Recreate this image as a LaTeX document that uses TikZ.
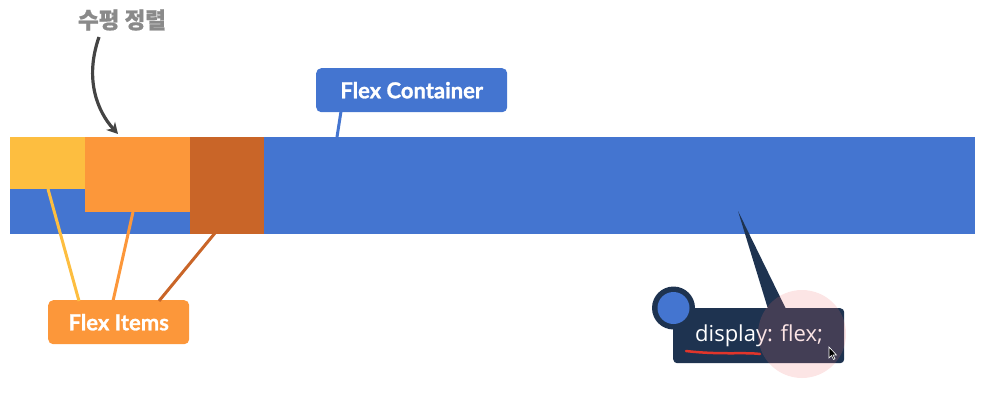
\documentclass[tikz,border=0pt]{standalone}
\usepackage{fontspec}
\setmainfont{Lato}
\newfontfamily\labelfont{Lato}[BoldFeatures={FakeBold=1.2}]
\newfontfamily\codefont{Open Sans}
\newfontfamily\cjk{Noto Sans CJK KR}[BoldFeatures={FakeBold=0.8}]
\usetikzlibrary{arrows.meta,calc}
\definecolor{cblue}{HTML}{4475D0}
\definecolor{cyellow}{HTML}{FDBE40}
\definecolor{corange}{HTML}{FC973A}
\definecolor{cdark}{HTML}{C96528}
\definecolor{cnavy}{HTML}{1E3350}
\definecolor{cgray}{HTML}{8A8A8A}
\definecolor{carrow}{HTML}{444444}
\definecolor{cpink}{HTML}{F07070}
\definecolor{cred}{HTML}{E0352B}
\tikzset{
  box/.style={rectangle, inner sep=0pt, anchor=north west},
  tag/.style={rectangle, rounded corners=5pt, inner sep=0pt, anchor=north west},
  tagtext/.style={text=white, font=\labelfont\bfseries\fontsize{22}{22}\selectfont, inner sep=0pt},
  lead/.style={line width=3pt},
}
\begin{document}
\begin{tikzpicture}[x=1pt,y=-1pt]
\useasboundingbox (0,0) rectangle (991,400);
% container and items
\node[box, fill=cblue, minimum width=965pt, minimum height=97pt] (container) at (10,137) {};
\node[box, fill=cyellow, minimum width=75pt, minimum height=52pt] (item1) at (10,137) {};
\node[box, fill=corange, minimum width=105pt, minimum height=75pt] (item2) at (85,137) {};
\node[box, fill=cdark, minimum width=74pt, minimum height=97pt] (item3) at (190,137) {};
% title
\node[font=\cjk\bfseries\fontsize{22.5}{22.5}\selectfont, text=cgray, inner sep=0pt] (title) at (122,20) {수평 정렬};
\coordinate (arrowstart) at (99,37);
\coordinate (arrowend) at (118,134);
\draw[line width=3.2pt, carrow, -{Stealth[length=11pt,width=12pt]}] (arrowstart) .. controls (84,80) and (98,112) .. (arrowend);
% Flex container tag
\node[tag, fill=cblue, minimum width=191pt, minimum height=44pt] (ctag) at (316,68) {};
\node[tagtext] at (ctag.center) {Flex Container};
\coordinate (cpt) at (337,137);
\draw[lead, cblue] ($(ctag.south west)+(25,-1)$) -- (cpt);
% Flex items tag
\coordinate (y1) at (48,189);
\coordinate (o1) at (133,212);
\coordinate (d1) at (215,233);
\node[tag, fill=corange, minimum width=141pt, minimum height=44pt] (itag) at (48,300) {};
\node[tagtext] at (itag.center) {Flex Items};
\draw[lead, cyellow] (y1) -- ($(itag.north west)+(31,1)$);
\draw[lead, corange] (o1) -- ($(itag.north west)+(65,1)$);
\draw[lead, cdark] (d1) -- ($(itag.north west)+(111,1)$);
% tooltip
\coordinate (tip) at (738,211);
\node[box, fill=cnavy, rounded corners=4pt, minimum width=171pt, minimum height=55pt] (tt) at (673,308) {};
\fill[cnavy] (tip) -- (786,309) -- (768,309) -- cycle;
\fill[cnavy] (673.5,308) circle[radius=21.5];
\fill[cblue] (673.5,308) circle[radius=16];
\node[font=\codefont\fontsize{22}{22}\selectfont, text=white, inner sep=0pt, anchor=base west] (code) at (695,341) {display: flex;};
\draw[cred, line width=2.5pt, line cap=round] (686,351) .. controls (720,355) and (745,352) .. (760,354);
\fill[cpink, opacity=0.18] (802,334) circle[radius=44];
\filldraw[black, draw=white, line width=0.6pt] (829,347) -- (829,358) -- (831.5,355.5) -- (833.5,359.5) -- (835,358.8) -- (833,355) -- (836.5,355) -- cycle;
\end{tikzpicture}
\end{document}
